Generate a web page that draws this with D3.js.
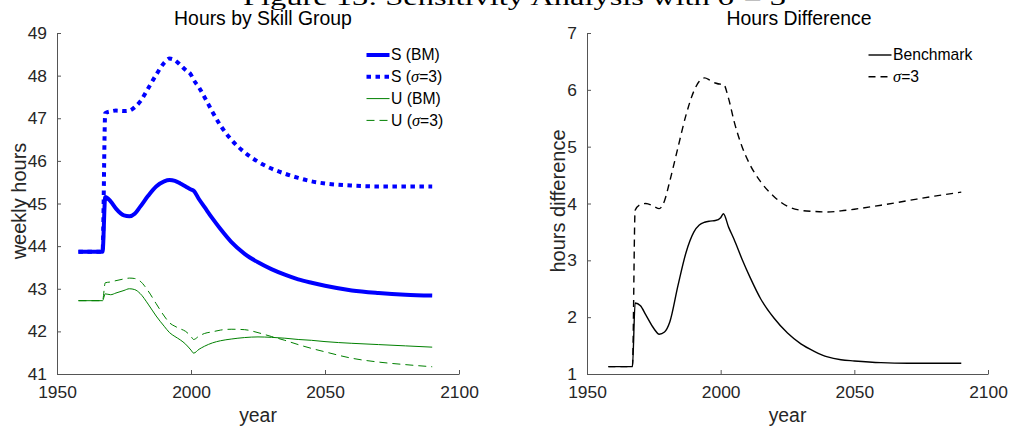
<!DOCTYPE html>
<html><head><meta charset="utf-8">
<script src="https://cdn.jsdelivr.net/npm/d3@7"></script>
<style>
body{margin:0;background:#fff;}
svg{display:block;font-family:"Liberation Sans",Arial,Helvetica,sans-serif;}
</style></head><body>
<svg id="chart" width="1009" height="429"></svg>
<script>
// ---- data ----
const years = [1958,1967,1968,1970,1972,1975,1977,1979,1981,1984,1987,1990,1992,1994,1996,1998,2000,2001,2003,2005,2008,2011,2015,2020,2025,2030,2035,2040,2045,2050,2060,2070,2080,2090];
const sBM   = [43.87,43.87,45.15,45.05,44.88,44.72,44.70,44.76,44.92,45.18,45.40,45.52,45.55,45.53,45.47,45.40,45.33,45.30,45.10,44.92,44.65,44.40,44.10,43.82,43.62,43.46,43.33,43.22,43.14,43.07,42.96,42.90,42.86,42.84];
const sS3   = [43.87,43.87,47.12,47.16,47.18,47.17,47.18,47.26,47.39,47.70,48.02,48.30,48.40,48.36,48.25,48.13,48.02,47.90,47.72,47.50,47.15,46.83,46.50,46.20,45.98,45.82,45.70,45.60,45.52,45.47,45.42,45.40,45.40,45.40];
const uBM   = [42.72,42.72,42.88,42.86,42.90,42.96,43.00,42.98,42.89,42.64,42.36,42.12,41.97,41.88,41.80,41.70,41.56,41.49,41.58,41.65,41.73,41.78,41.82,41.855,41.87,41.86,41.84,41.81,41.79,41.76,41.72,41.69,41.66,41.63];
const uS3   = [42.72,42.72,43.14,43.16,43.19,43.23,43.25,43.24,43.18,42.95,42.65,42.36,42.20,42.12,42.06,42.00,41.88,41.81,41.89,41.95,41.99,42.03,42.05,42.04,41.97,41.88,41.79,41.69,41.60,41.52,41.37,41.28,41.22,41.17];
const dBM   = [1.13,1.13,2.25,2.20,2.04,1.80,1.70,1.74,1.92,2.55,3.13,3.50,3.62,3.67,3.69,3.70,3.75,3.82,3.58,3.37,3.02,2.70,2.32,1.98,1.72,1.53,1.40,1.30,1.25,1.23,1.20,1.19,1.19,1.19];
const dS3   = [1.13,1.13,3.88,3.98,4.00,3.95,3.91,4.05,4.40,4.98,5.55,5.98,6.15,6.21,6.17,6.12,6.10,6.10,5.84,5.45,5.00,4.68,4.38,4.12,3.95,3.88,3.86,3.85,3.87,3.90,3.97,4.05,4.13,4.20];
const xTicks = [1950,2000,2050,2100];
const yTicksLeft = [41,42,43,44,45,46,47,48,49];
const yTicksRight = [1,2,3,4,5,6,7];
// legend entries: [plain prefix, italic part, plain suffix]
const leftLegend = [["S (BM)","",""],["S (","σ","=3)"],["U (BM)","",""],["U (","σ","=3)"]];
const rightLegend = [["Benchmark","",""],["","σ","=3"]];

const svg = d3.select("#chart");
const AX = "#262626";

// super title (cut at top)
svg.append("text").attr("x",243).attr("y",5)
  .attr("font-family","'Liberation Serif','DejaVu Serif',serif").attr("font-size",24)
  .attr("textLength",543).attr("lengthAdjust","spacingAndGlyphs")
  .attr("fill","#000").text("Figure 13: Sensitivity Analysis with σ = 3");

function panel(x0,x1,yDomain,yTicks,title,titleX,ylabel,ylabX,series,legend,legX){
  const x = d3.scaleLinear().domain([1950,2100]).range([x0,x1]);
  const y = d3.scaleLinear().domain(yDomain).range([374,33]);
  const g = svg.append("g");
  const xa = g.append("g").attr("transform","translate(0,374)")
    .call(d3.axisBottom(x).tickValues(xTicks).tickFormat(d3.format("d")).tickSizeInner(-4).tickSizeOuter(0).tickPadding(12));
  const ya = g.append("g").attr("transform",`translate(${x0},0)`)
    .call(d3.axisLeft(y).tickValues(yTicks).tickFormat(d3.format("d")).tickSizeInner(-4).tickSizeOuter(0).tickPadding(10));
  [xa,ya].forEach(a=>{
    a.selectAll("path,line").attr("stroke","#555");
    a.selectAll("text").attr("fill",AX).attr("font-size",17.4).attr("font-family","'Liberation Sans',Arial,sans-serif");
  });
  g.append("text").attr("x",titleX).attr("y",25).attr("text-anchor","middle")
    .attr("font-size",19.4).attr("fill","#000").text(title);
  g.append("text").attr("x",(x0+x1)/2).attr("y",422).attr("text-anchor","middle")
    .attr("font-size",19.4).attr("fill",AX).text("year");
  g.append("text").attr("transform",`translate(${ylabX},201) rotate(-90)`).attr("text-anchor","middle")
    .attr("font-size",20).attr("fill",AX).text(ylabel);
  const line = d3.line().x((d,i)=>x(years[i])).y(d=>y(d)).curve(d3.curveMonotoneX);
  series.forEach(s=>{
    g.append("path").attr("d",line(s.v)).attr("fill","none").attr("stroke",s.c)
      .attr("stroke-width",s.w).attr("stroke-dasharray",s.dash||null).attr("stroke-linejoin","round");
  });
  series.forEach((s,i)=>{
    const ly = 55 + i*21.8;
    g.append("line").attr("x1",legX).attr("x2",legX+23).attr("y1",ly).attr("y2",ly)
      .attr("stroke",s.c).attr("stroke-width",s.w).attr("stroke-dasharray",s.dash||null);
    const t = g.append("text").attr("x",legX+24.5).attr("y",ly).attr("dy","0.35em")
      .attr("font-size",15.7).attr("fill","#000");
    const parts = legend[i];
    if(parts[0]) t.append("tspan").text(parts[0]);
    if(parts[1]) t.append("tspan").attr("font-style","italic").attr("font-family","'Liberation Serif','DejaVu Serif',serif").attr("font-size",16.5).text(parts[1]);
    if(parts[2]) t.append("tspan").text(parts[2]);
  });
}

panel(57,459,[41,49],yTicksLeft,"Hours by Skill Group",263,"weekly hours",26,[
  {v:sBM,c:"#0000ff",w:4},
  {v:sS3,c:"#0000ff",w:4,dash:"4.5,4.5"},
  {v:uBM,c:"#008000",w:1},
  {v:uS3,c:"#008000",w:1,dash:"8,5"}
],leftLegend,366.5);

panel(587,988,[1,7],yTicksRight,"Hours Difference",799,"hours difference",565,[
  {v:dBM,c:"#000",w:1.4},
  {v:dS3,c:"#000",w:1.4,dash:"7,5"}
],rightLegend,868.5);
</script>
</body></html>
